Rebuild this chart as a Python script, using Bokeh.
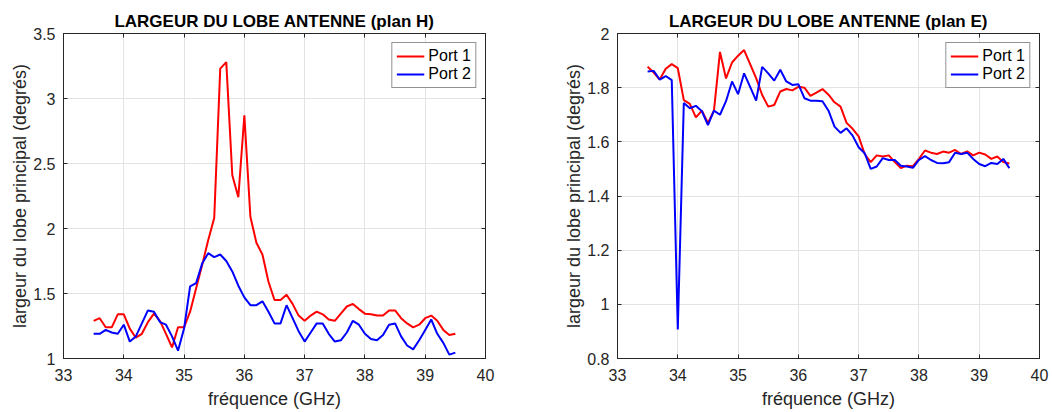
from bokeh.plotting import figure
from bokeh.layouts import row
from bokeh.models import FixedTicker, CustomJSTickFormatter, LinearAxis, Range1d
from bokeh.embed import file_html
from bokeh.resources import INLINE

freq = [round(33.5 + 0.1 * i, 1) for i in range(61)]

h_port1 = [1.29, 1.31, 1.24, 1.24, 1.34, 1.34, 1.23, 1.16, 1.19, 1.28,
           1.345, 1.29, 1.19, 1.085, 1.24, 1.24, 1.36, 1.54, 1.72, 1.91,
           2.08, 3.23, 3.28, 2.41, 2.24, 2.87, 2.09, 1.89, 1.80, 1.59,
           1.45, 1.45, 1.49, 1.42, 1.33, 1.29, 1.33, 1.36, 1.34, 1.30,
           1.29, 1.345, 1.40, 1.42, 1.38, 1.345, 1.34, 1.33, 1.33, 1.37,
           1.37, 1.31, 1.27, 1.24, 1.26, 1.31, 1.33, 1.29, 1.22, 1.18, 1.19]
h_port2 = [1.19, 1.19, 1.22, 1.20, 1.19, 1.26, 1.13, 1.17, 1.27, 1.37,
           1.36, 1.28, 1.26, 1.17, 1.06, 1.23, 1.555, 1.58, 1.73, 1.81,
           1.78, 1.80, 1.75, 1.67, 1.56, 1.47, 1.41, 1.41, 1.44, 1.36,
           1.27, 1.27, 1.41, 1.31, 1.21, 1.13, 1.20, 1.27, 1.27, 1.19,
           1.13, 1.14, 1.20, 1.29, 1.26, 1.19, 1.15, 1.14, 1.18, 1.26,
           1.27, 1.17, 1.10, 1.07, 1.14, 1.22, 1.30, 1.19, 1.12, 1.03, 1.045]

e_port1 = [1.877, 1.856, 1.83, 1.87, 1.887, 1.872, 1.754, 1.74, 1.69, 1.715,
           1.67, 1.715, 1.932, 1.834, 1.893, 1.918, 1.939, 1.887, 1.835, 1.773,
           1.73, 1.736, 1.786, 1.795, 1.79, 1.803, 1.80, 1.77, 1.782, 1.795,
           1.774, 1.746, 1.73, 1.67, 1.648, 1.62, 1.555, 1.525, 1.55, 1.546,
           1.55, 1.525, 1.503, 1.512, 1.51, 1.537, 1.568, 1.56, 1.555, 1.564,
           1.56, 1.57, 1.555, 1.565, 1.55, 1.56, 1.553, 1.537, 1.546, 1.525, 1.52]
e_port2 = [1.86, 1.862, 1.83, 1.843, 1.828, 0.907, 1.743, 1.724, 1.733, 1.713,
           1.662, 1.715, 1.70, 1.75, 1.823, 1.776, 1.853, 1.803, 1.752, 1.877,
           1.853, 1.826, 1.866, 1.823, 1.81, 1.813, 1.761, 1.752, 1.752, 1.75,
           1.715, 1.656, 1.633, 1.65, 1.623, 1.58, 1.558, 1.50, 1.509, 1.54,
           1.533, 1.533, 1.512, 1.509, 1.504, 1.533, 1.547, 1.533, 1.522, 1.521,
           1.525, 1.56, 1.555, 1.56, 1.537, 1.518, 1.51, 1.522, 1.518, 1.537, 1.503]

x_ticks = [33, 34, 35, 36, 37, 38, 39, 40]
h_yticks = [1, 1.5, 2, 2.5, 3, 3.5]
e_yticks = [0.8, 1, 1.2, 1.4, 1.6, 1.8, 2]

FONT = "Liberation Sans"
TXT = "#262626"
fmt = "return tick.toString()"


def style_axis(ax, ticks, show_labels=True):
    ax.ticker = FixedTicker(ticks=ticks)
    ax.major_tick_in = 4
    ax.major_tick_out = 0
    ax.minor_tick_line_color = None
    ax.axis_line_color = TXT
    ax.major_tick_line_color = TXT
    if show_labels:
        ax.major_label_text_font = FONT
        ax.major_label_text_font_size = "16px"
        ax.major_label_text_color = TXT
        ax.axis_label_text_font = FONT
        ax.axis_label_text_font_size = "18px"
        ax.axis_label_text_font_style = "normal"
        ax.axis_label_text_color = TXT
        ax.formatter = CustomJSTickFormatter(code=fmt)
    else:
        ax.formatter = CustomJSTickFormatter(code="return ''")
        ax.major_label_text_font_size = "0px"
        ax.major_label_standoff = 0
        ax.axis_label = None


def make(title, y1, y2, yr, yticks, left, right):
    p = figure(frame_width=422, frame_height=325, output_backend="svg",
               toolbar_location=None,
               x_range=Range1d(33, 40), y_range=Range1d(*yr),
               min_border_left=left, min_border_right=right,
               min_border_top=33, min_border_bottom=50)
    p.title.text = title
    p.title.align = "center"
    p.title.text_font = FONT
    p.title.text_font_size = "17px"
    p.title.text_font_style = "bold"
    p.title.text_color = "#000000"
    p.title.standoff = 6
    p.outline_line_color = TXT
    p.outline_line_alpha = 1
    p.background_fill_color = "white"
    p.line(freq, y1, color="#ff0000", line_width=2, legend_label="Port 1")
    p.line(freq, y2, color="#0000ff", line_width=2, legend_label="Port 2")
    xax = p.xaxis[0]
    yax = p.yaxis[0]
    style_axis(xax, x_ticks)
    style_axis(yax, yticks)
    xax.axis_label = "fréquence (GHz)"
    yax.axis_label = "largeur du lobe principal (degrés)"
    xax.major_label_standoff = 10
    yax.major_label_standoff = 8
    xax.axis_label_standoff = 5
    yax.axis_label_standoff = 0
    top = LinearAxis()
    rgt = LinearAxis()
    style_axis(top, x_ticks, show_labels=False)
    style_axis(rgt, yticks, show_labels=False)
    p.add_layout(top, "above")
    p.add_layout(rgt, "right")
    p.xgrid.ticker = FixedTicker(ticks=x_ticks)
    p.ygrid.ticker = FixedTicker(ticks=yticks)
    p.grid.grid_line_color = "#e3e3e3"
    p.grid.grid_line_width = 1
    p.legend.location = "top_right"
    p.legend.label_text_font = FONT
    p.legend.label_text_font_size = "16px"
    p.legend.label_text_color = "#000000"
    p.legend.border_line_color = TXT
    p.legend.border_line_width = 1
    p.legend.glyph_width = 28
    p.legend.glyph_height = 16
    p.legend.label_height = 16
    p.legend.spacing = 0
    p.legend.padding = 4
    p.legend.margin = 9
    p.legend.label_standoff = 4
    p.legend.background_fill_alpha = 1
    return p


p1 = make("LARGEUR DU LOBE ANTENNE (plan H)", h_port1, h_port2, (1, 3.5), h_yticks, 63, 44)
p2 = make("LARGEUR DU LOBE ANTENNE (plan E)", e_port1, e_port2, (0.8, 2), e_yticks, 88, 13)

layout = row(p1, p2)
open("out.html", "w").write(file_html(layout, INLINE))
